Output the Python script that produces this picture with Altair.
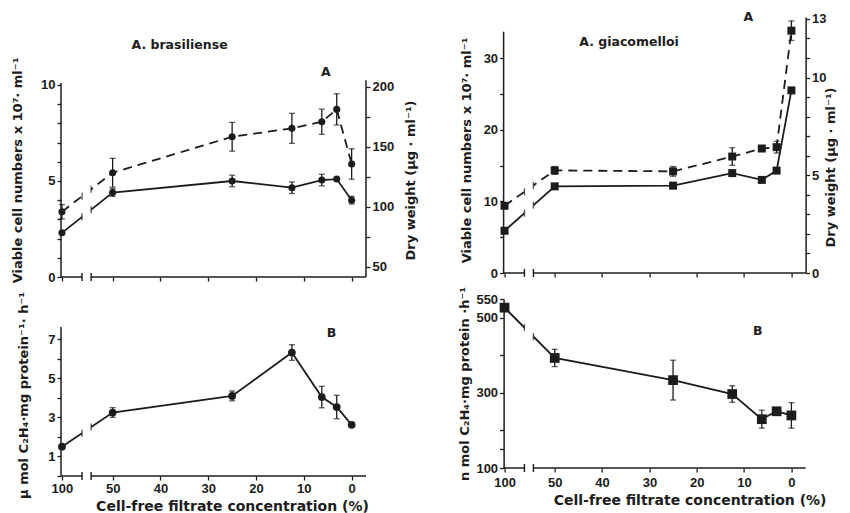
import altair as alt
import pandas as pd

# ---------------- data ----------------
conc = [100, 50, 25, 12.5, 6.25, 3.125, 0]
x_tick_conc = [100, 50, 40, 30, 20, 10, 0]

# A. brasiliense
bra_cells = [2.3, 4.4, 5.0, 4.65, 5.05, 5.1, 4.0]
bra_cells_err = [0, 0.2, 0.3, 0.3, 0.3, 0, 0.2]
bra_dry = [95.8, 128.3, 158.3, 165.3, 170.8, 181.1, 135.6]
bra_dry_err = [6, 12, 12, 12.5, 10.5, 13, 12.7]
bra_c2h4 = [1.5, 3.25, 4.1, 6.32, 4.04, 3.53, 2.62]
bra_c2h4_err = [0, 0.25, 0.25, 0.4, 0.55, 0.6, 0]

# A. giacomelloi
gia_cells = [5.9, 12.1, 12.2, 13.95, 13.0, 14.3, 25.5]
gia_cells_err = [0, 0, 0, 0, 0, 0, 0]
gia_dry = [3.44, 5.25, 5.2, 5.96, 6.37, 6.44, 12.4]
gia_dry_err = [0, 0.2, 0.25, 0.45, 0, 0.3, 0.5]
gia_c2h4 = [527, 393, 334, 297, 230, 251, 240]
gia_c2h4_err = [0, 23, 53, 22, 24, 10, 34]

# ---------------- styling / layout ----------------
INK = "#1c1c1c"
FONT = "Liberation Sans"
TFONT = "DejaVu Sans"
POS100 = 60.6            # axis position used for the 100 % point (broken axis)
X_DOMAIN = [60.8, -3.0]
BREAK = [56.4, 54.5]


def to_pos(c):
    return POS100 if c > 50 else c


pos = [to_pos(c) for c in conc]
xs = alt.Scale(domain=X_DOMAIN, nice=False, zero=False)


def ysc(dom):
    return alt.Scale(domain=dom, nice=False, zero=False)


def x_axis(bottom, title_x=0, label_pad=2):
    common = dict(values=[to_pos(c) for c in x_tick_conc], domain=False, ticks=True,
                  tickSize=4, grid=False, format="d", labelFlush=False)
    if bottom:
        return alt.Axis(labelExpr="datum.value > 55 ? '100' : datum.label",
                        title="Cell-free filtrate concentration (%)", titleX=title_x,
                        titlePadding=4, labelPadding=label_pad, titleFontSize=14, **common)
    return alt.Axis(labels=False, title=None, **common)


def series(vals, errs, dom, yaxis, xaxis, shape, size, dashed=False):
    df = pd.DataFrame({"pos": pos, "v": vals, "e": errs})
    base = alt.Chart(df).transform_calculate(lo="datum.v - datum.e", hi="datum.v + datum.e")
    X = alt.X("pos:Q", scale=xs, axis=xaxis)
    line_kw = {"strokeDash": [9, 6]} if dashed else {}
    line = base.mark_line(color=INK, strokeWidth=1.8, **line_kw).encode(
        x=X, y=alt.Y("v:Q", scale=ysc(dom), axis=yaxis))
    eb = base.transform_filter("datum.e > 0")
    err = eb.mark_rule(color=INK, strokeWidth=1.3).encode(
        x=X, y=alt.Y("lo:Q", scale=ysc(dom), axis=yaxis), y2="hi:Q")
    cap_lo = eb.mark_tick(color=INK, orient="horizontal", size=6, thickness=1.3).encode(
        x=X, y=alt.Y("lo:Q", scale=ysc(dom), axis=yaxis))
    cap_hi = eb.mark_tick(color=INK, orient="horizontal", size=6, thickness=1.3).encode(
        x=X, y=alt.Y("hi:Q", scale=ysc(dom), axis=yaxis))
    pts = base.mark_point(shape=shape, filled=True, size=size, color=INK, opacity=1).encode(
        x=X, y=alt.Y("v:Q", scale=ysc(dom), axis=yaxis))
    return alt.layer(line, err, cap_lo, cap_hi, pts)


def break_glyphs(vals, dom, xaxis):
    v100, v50 = vals[0], vals[1]
    gv = [v100 + (v50 - v100) * (POS100 - b) / (POS100 - 50) for b in BREAK]
    df = pd.DataFrame({"pos": BREAK, "v": gv})
    return alt.Chart(df).mark_tick(color=INK, orient="vertical", size=7, thickness=1.4).encode(
        x=alt.X("pos:Q", scale=xs, axis=xaxis),
        y=alt.Y("v:Q", scale=ysc(dom), axis=None))


def label(text, x, y, dom, xaxis, size=12.5):
    df = pd.DataFrame({"t": [text], "x": [x], "y": [y]})
    return alt.Chart(df).mark_text(font=TFONT, fontSize=size, fontWeight="bold", color=INK).encode(
        x=alt.X("x:Q", scale=xs, axis=xaxis),
        y=alt.Y("y:Q", scale=ysc(dom), axis=None),
        text="t:N")


def axis_line(x_px, y0, y1, dom):
    """Vertical axis line spanning only the labelled part of a y scale."""
    return alt.Chart(pd.DataFrame({"y0": [y0], "y1": [y1]})).mark_rule(
        color=INK, strokeWidth=1.5).encode(
        x=alt.value(x_px), y=alt.Y("y0:Q", scale=ysc(dom), axis=None), y2="y1:Q")


def panel(layers, glyphs, W, H, xaxis, extra=()):
    mask = alt.Chart(pd.DataFrame({"b0": [BREAK[0]], "b1": [BREAK[1]]})).mark_rect(
        color="white").encode(x=alt.X("b0:Q", scale=xs, axis=xaxis), x2="b1:Q",
                              y=alt.value(-1), y2=alt.value(H + 2))
    xline = alt.Chart(pd.DataFrame({"s0": [X_DOMAIN[0], BREAK[1]],
                                    "s1": [BREAK[0], X_DOMAIN[1]]})).mark_rule(
        color=INK, strokeWidth=1.5).encode(x=alt.X("s0:Q", scale=xs, axis=xaxis), x2="s1:Q",
                                          y=alt.value(H))
    xbreak = alt.Chart(pd.DataFrame({"b": BREAK})).mark_rule(color=INK, strokeWidth=1.4).encode(
        x=alt.X("b:Q", scale=xs, axis=xaxis), y=alt.value(H - 4), y2=alt.value(H + 4))
    return alt.layer(*layers, mask, xline, xbreak, *glyphs, *extra).resolve_scale(
        y="independent").properties(width=W, height=H)


CELLS_TITLE = "Viable cell numbers x 10\u2077\u00b7 ml\u207b\u00b9"
DRY_TITLE = "Dry  weight   (\u03bcg \u00b7 ml\u207b\u00b9)"

# ---------- top-left: A. brasiliense, A ----------
TL_W, TL_H = 305, 260
tl_left = [0, 13.54]
tl_right = [41.4, 258.1]
xa_tl = x_axis(False)
ax_tl_l = alt.Axis(values=list(range(0, 11)), labelExpr="datum.value % 5 == 0 ? datum.label : ''",
                   title=CELLS_TITLE, titlePadding=16, orient="left", domain=False, titleY=153)
ax_tl_r = alt.Axis(values=list(range(50, 201, 25)),
                   labelExpr="datum.value % 50 == 0 ? datum.label : ''",
                   title=DRY_TITLE, orient="right", titleAngle=270, titlePadding=24,
                   domain=False, titleY=163)
TL = panel(
    [series(bra_cells, bra_cells_err, tl_left, ax_tl_l, xa_tl, "circle", 50),
     series(bra_dry, bra_dry_err, tl_right, ax_tl_r, xa_tl, "circle", 50, dashed=True)],
    [break_glyphs(bra_cells, tl_left, xa_tl), break_glyphs(bra_dry, tl_right, xa_tl)],
    TL_W, TL_H, xa_tl,
    extra=[axis_line(0, 0, 10.1, tl_left), axis_line(TL_W, 0, 10.25, tl_left),
           label("A. brasiliense", 36, 12.1, tl_left, xa_tl),
           label("A", 5.4, 10.7, tl_left, xa_tl)])

# ---------- bottom-left: A. brasiliense, B ----------
BL_W, BL_H = 305, 177
bl_dom = [0, 9.06]
xa_bl = x_axis(True, title_x=171, label_pad=2)
ax_bl = alt.Axis(values=list(range(0, 8)), labelExpr="datum.value % 2 == 1 ? datum.label : ''",
                 title="\u03bc mol C\u2082H\u2084\u00b7mg protein\u207b\u00b9\u00b7 h\u207b\u00b9",
                 titlePadding=17, orient="left", domain=False, titleY=96)
BL = panel(
    [series(bra_c2h4, bra_c2h4_err, bl_dom, ax_bl, xa_bl, "circle", 60)],
    [break_glyphs(bra_c2h4, bl_dom, xa_bl)],
    BL_W, BL_H, xa_bl,
    extra=[axis_line(0, 0, 7.63, bl_dom),
           label("B", 4.2, 7.3, bl_dom, xa_bl)])

# ---------- top-right: A. giacomelloi, A ----------
TR_W, TR_H = 302, 256
tr_left = [0, 35.75]
tr_right = [0, 13.1]
xa_tr = x_axis(False)
ax_tr_l = alt.Axis(values=list(range(0, 31, 5)), labelExpr="datum.value % 10 == 0 ? datum.label : ''",
                   title=CELLS_TITLE, titlePadding=10, orient="left", domain=False, titleY=133)
ax_tr_r = alt.Axis(values=list(range(0, 14)),
                   labelExpr="(datum.value % 5 == 0 || datum.value == 13) ? datum.label : ''",
                   title=DRY_TITLE, orient="right", titleAngle=270, titlePadding=11, titleY=150)
TR = panel(
    [series(gia_cells, gia_cells_err, tr_left, ax_tr_l, xa_tr, "square", 64),
     series(gia_dry, gia_dry_err, tr_right, ax_tr_r, xa_tr, "square", 64, dashed=True)],
    [break_glyphs(gia_cells, tr_left, xa_tr), break_glyphs(gia_dry, tr_right, xa_tr)],
    TR_W, TR_H, xa_tr,
    extra=[axis_line(0, 0, 33.7, tr_left),
           label("A. giacomelloi", 34.3, 32.3, tr_left, xa_tr),
           label("A", 9.1, 35.7, tr_left, xa_tr)])

# ---------- bottom-right: A. giacomelloi, B ----------
BR_W, BR_H = 302, 169
br_dom = [100, 550]
xa_br = x_axis(True, title_x=186, label_pad=4)
ax_br = alt.Axis(values=[100, 150, 200, 300, 400, 500, 550],
                 labelExpr="(datum.value == 100 || datum.value == 300 || datum.value == 500 || datum.value == 550) ? datum.label : ''",
                 title="n mol  C\u2082H\u2084\u00b7mg  protein \u00b7h\u207b\u00b9",
                 titlePadding=4, orient="left")
BR = panel(
    [series(gia_c2h4, gia_c2h4_err, br_dom, ax_br, xa_br, "square", 95)],
    [break_glyphs(gia_c2h4, br_dom, xa_br)],
    BR_W, BR_H, xa_br,
    extra=[label("B", 7.1, 464, br_dom, xa_br)])

chart = alt.concat(TL, TR, BL, BR, columns=2, spacing={"row": 22, "column": 137.6},
                   bounds="flush").properties(
    padding={"left": 3, "top": 3, "right": 0, "bottom": 0},
    background="white",
).configure_view(stroke=None).configure_axis(
    labelFont=FONT, titleFont=TFONT, labelFontSize=13, titleFontSize=13,
    labelFontWeight="bold", titleFontWeight="bold", labelColor=INK, titleColor=INK,
    domainColor=INK, tickColor=INK, domainWidth=1.5, tickWidth=1.3, tickSize=4,
    labelPadding=2, grid=False, labelOverlap=False,
)

chart.save("out.html", embed_options={"renderer": "svg", "actions": False})
